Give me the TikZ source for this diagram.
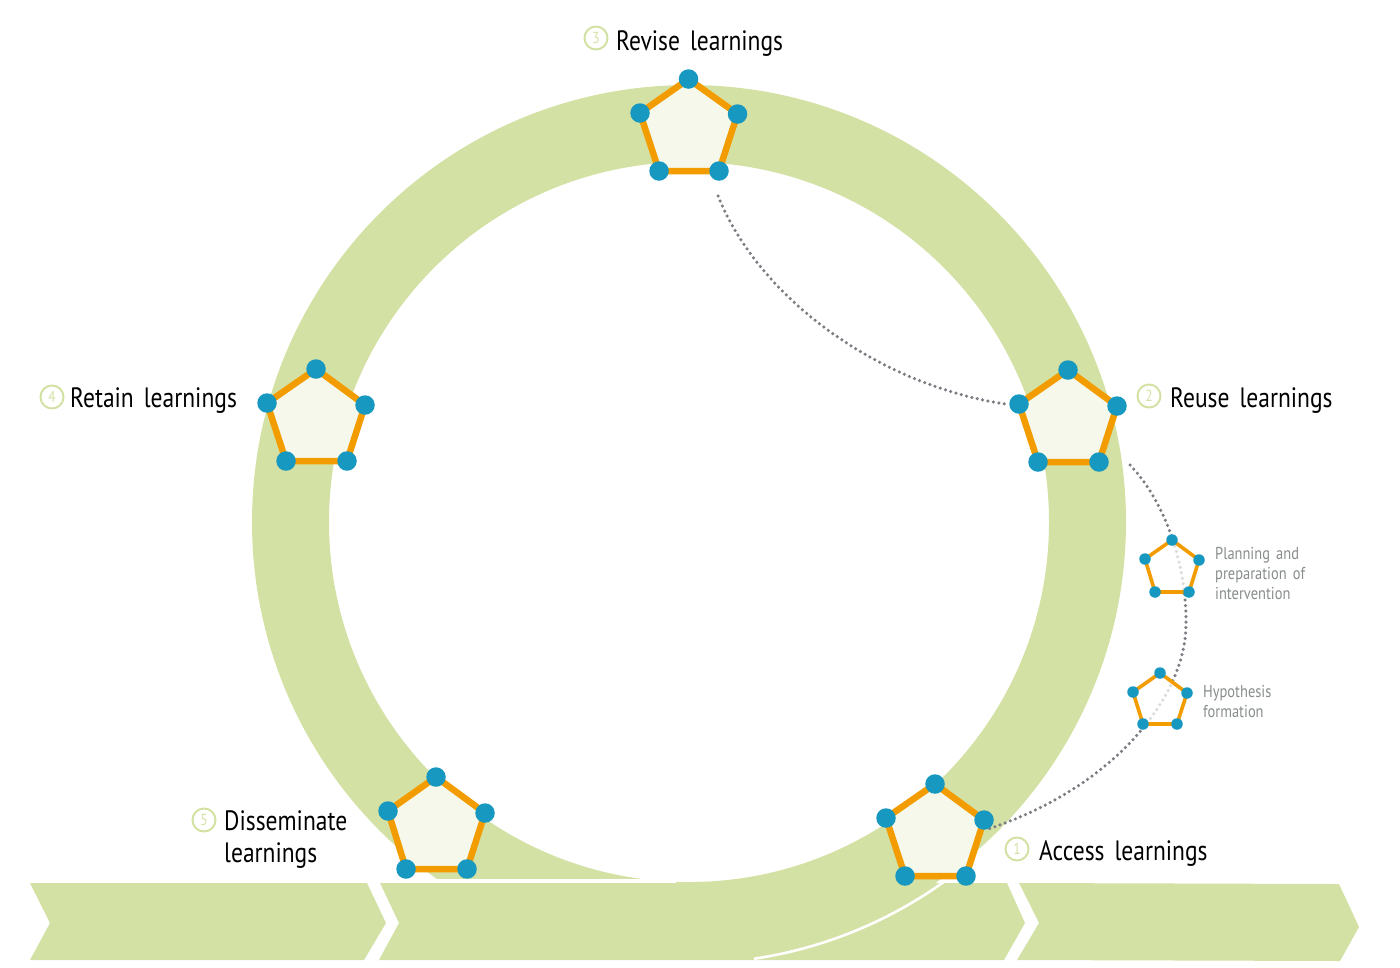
\documentclass[tikz,border=0pt]{standalone}
\usepackage{fontspec}
\setmainfont{PT Sans}[FakeStretch=0.84,WordSpace=1.6]
\definecolor{ringg}{HTML}{D4E1A4}
\definecolor{pfill}{HTML}{F5F8EA}
\definecolor{porange}{HTML}{F39C00}
\definecolor{pblue}{HTML}{1798C0}
\definecolor{dotg}{HTML}{7A7E82}
\definecolor{smallt}{HTML}{878C8C}
\tikzset{x=1pt,y=-1pt,
 bigdot/.style={circle,fill=pblue,draw=none,minimum size=19.5pt,inner sep=0},
 smalldot/.style={circle,fill=pblue,draw=none,minimum size=11.5pt,inner sep=0},
 bigedge/.style={draw=porange,line width=6.5pt,fill=pfill,line join=miter},
 smalledge/.style={draw=porange,line width=3.6pt,fill=white,fill opacity=.72,line join=miter},
 chev/.style={fill=ringg,draw=none},
 numc/.style={circle,draw=ringg,line width=2pt,minimum size=23pt,inner sep=0,text=ringg,font=\fontsize{16}{18}\selectfont},
 biglab/.style={anchor=west,inner sep=0,align=left,text=black,font=\fontsize{28}{32}\selectfont},
 smalllab/.style={anchor=west,inner sep=0,align=left,text=smallt,font=\fontsize{17.2}{20}\selectfont},
 dotline/.style={draw=dotg,line width=3.5pt,dash pattern=on 0pt off 5.5pt,line cap=round}
}
\newcommand{\pentagon}[8]{%
 % #1 name, #2 edge style, #3 dot style, #4-#8 vertices
 \path[#2] #4 -- #5 -- #6 -- #7 -- #8 -- cycle;
 \node[#3] (#1a) at #4 {};
 \node[#3] (#1b) at #5 {};
 \node[#3] (#1c) at #6 {};
 \node[#3] (#1d) at #7 {};
 \node[#3] (#1e) at #8 {};
}
\begin{document}
\begin{tikzpicture}
\useasboundingbox (0,0) rectangle (1400,967);
% ring
\begin{scope}
\clip (0,0) rectangle (1400,884);
\fill[ringg,even odd rule] (689,522) circle[radius=437] (689,522) circle[radius=360];
\end{scope}
\fill[white] (420,878.5) rectangle (676,883);
% chevrons
\path[chev] (30,883) -- (367,883) -- (386,923) -- (364,960) -- (30,960) -- (50,923) -- cycle;
\path[chev] (380,883) -- (1007,883) -- (1025,923) -- (1004,960) -- (379,960) -- (399,923) -- cycle;
\path[chev] (1019,883) -- (1339,884) -- (1359,927) -- (1340,961) -- (1017,960) -- (1039,923) -- cycle;
% white rim of the ring on the chevrons
\draw[white,line width=2.6pt] (945,881) arc[start angle=54.2,end angle=81.5,radius=437];
% connectors
\coordinate (c1s) at (718,196);
\coordinate (c1e) at (1005,404);
\coordinate (c2s) at (1130,465);
\coordinate (c2m) at (1186,625);
\coordinate (c2e) at (985,830);
\draw[dotline] (c1s) .. controls (760,300) and (880,385) .. (c1e);
\draw[dotline] (c2s) .. controls (1168,505) and (1187,570) .. (c2m) .. controls (1185,700) and (1110,790) .. (c2e);
% pentagons
\pentagon{top}{bigedge}{bigdot}{(688.5,79)}{(737.5,114)}{(719,171)}{(659,171)}{(640,113)}
\pentagon{lft}{bigedge}{bigdot}{(316,369)}{(365,405)}{(347,461)}{(286,461)}{(267,403)}
\pentagon{rgt}{bigedge}{bigdot}{(1068,370)}{(1117,406)}{(1099,462)}{(1038,462)}{(1019,404)}
\pentagon{brt}{bigedge}{bigdot}{(935,784)}{(984,820)}{(966,876)}{(905,876)}{(886,818)}
\pentagon{blt}{bigedge}{bigdot}{(436,777)}{(485,813)}{(467,869)}{(406,869)}{(388,811)}
\begin{scope}
\pentagon{spa}{smalledge}{smalldot}{(1172,540)}{(1199,560)}{(1189,592)}{(1155,592)}{(1145,559)}
\pentagon{spb}{smalledge}{smalldot}{(1160,673)}{(1187,693)}{(1177,724)}{(1143,724)}{(1133,692)}
\end{scope}
% number circles
\node[numc] (n3) at (596,38) {3};
\node[numc] (n2) at (1149,396) {2};
\node[numc] (n4) at (52,397) {4};
\node[numc] (n5) at (204,820) {5};
\node[numc] (n1) at (1017,849) {1};
% labels
\node[biglab] (l3) at (616,44) {Revise learnings};
\node[biglab] (l2) at (1170,401) {Reuse learnings};
\node[biglab] (l4) at (70,401) {Retain learnings};
\node[biglab] (l5) at (224,840) {Disseminate\\learnings};
\node[biglab] (l1) at (1039,854) {Access learnings};
\node[smalllab] (s1) at (1215,574) {Planning and\\preparation of\\intervention};
\node[smalllab] (s2) at (1203,702) {Hypothesis\\formation};
\end{tikzpicture}
\end{document}
